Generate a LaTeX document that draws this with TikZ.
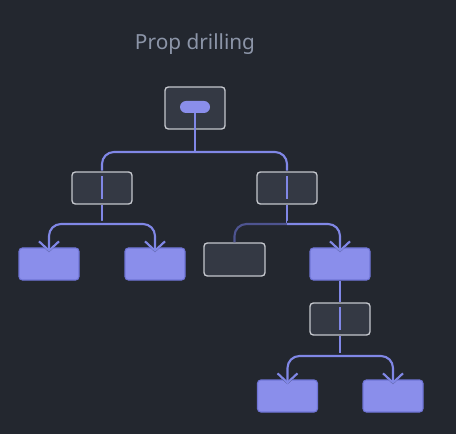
\documentclass[tikz,border=0pt]{standalone}
\usepackage{fontspec}
\setmainfont{Noto Sans}
\usetikzlibrary{arrows.meta}
\definecolor{bg}{HTML}{23272F}
\definecolor{wirec}{HTML}{8087E6}
\definecolor{dimw}{HTML}{4E5490}
\definecolor{purf}{HTML}{8A8EEB}
\definecolor{purd}{HTML}{6F74D6}
\definecolor{grayf}{HTML}{343944}
\definecolor{grayd}{HTML}{C4C7CD}
\definecolor{titlec}{HTML}{8C95A8}
\tikzset{
  graybox/.style={draw=grayd, fill=grayf, line width=1pt, rounded corners=2.5pt, minimum width=45pt, minimum height=24pt, inner sep=0pt},
  purbox/.style={draw=purd, fill=purf, line width=0.8pt, rounded corners=2.5pt, minimum width=45pt, minimum height=24pt, inner sep=0pt},
  pill/.style={fill=purf, rounded corners=4.5pt, minimum width=22.5pt, minimum height=9pt, inner sep=0pt},
  wire/.style={draw=wirec, line width=1.6pt, rounded corners=9pt},
  inwire/.style={draw=wirec, line width=1.6pt},
  arr/.style={wire, -{Straight Barb[length=7pt,width=15pt]},
    preaction={draw=bg, line width=4.5pt, -{Straight Barb[length=7pt,width=15pt]}}},
}
\begin{document}
\begin{tikzpicture}[x=0.75pt,y=-0.75pt]
\fill[bg] (0,0) rectangle (456,434);
\useasboundingbox (0,0) rectangle (456,434);
\node[text=titlec, font=\fontsize{15.6pt}{18pt}\selectfont] (title) at (195,44) {Prop drilling};
% nodes
\node[graybox, minimum width=45pt, minimum height=31.5pt] (root) at (195,108) {};
\node[pill] (pl) at (195,107) {};
\node[graybox] (midL) at (102,188) {};
\node[graybox] (midR) at (287,188) {};
\node[purbox] (leafLL) at (49,264) {};
\node[purbox] (leafLR) at (155,264) {};
\node[graybox, minimum width=45.75pt, minimum height=24.75pt] (gray) at (234.5,259.5) {};
\node[purbox] (purp) at (340,264) {};
\node[graybox] (midB) at (340,319) {};
\node[purbox] (leafBL) at (287.5,396) {};
\node[purbox] (leafBR) at (393,396) {};
% junction coordinates
\coordinate (j0) at (195,152);
\coordinate (j1) at (102,224);
\coordinate (j2) at (287,224);
\coordinate (j3) at (340,356);
% root to middle
\draw[inwire] (pl.south) -- (j0);
\draw[wire] (j0) -| ([yshift=0.6pt]midL.north);
\draw[wire] (j0) -| ([yshift=0.6pt]midR.north);
\draw[inwire] ([yshift=-3.5pt]midL.north) -- ([yshift=4pt]midL.south);
\draw[inwire] ([yshift=-3.5pt]midR.north) -- ([yshift=4pt]midR.south);
% left subtree
\draw[inwire] ([yshift=-0.6pt]midL.south) -- (j1);
\draw[arr] (j1) -| ([yshift=-3.5pt]leafLL.north);
\draw[arr] (j1) -| ([yshift=-3.5pt]leafLR.north);
% right subtree
\draw[inwire] ([yshift=-0.6pt]midR.south) -- (j2);
\draw[wire, draw=dimw] (j2) -| (gray.north);
\draw[arr] (j2) -| ([yshift=-3.5pt]purp.north);
% bottom subtree
\draw[inwire] (purp.south) -- ([yshift=0.6pt]midB.north);
\draw[inwire] ([yshift=-3.5pt]midB.north) -- ([yshift=4pt]midB.south);
\draw[inwire] ([yshift=-0.6pt]midB.south) -- (j3);
\draw[arr] (j3) -| ([yshift=-3.5pt]leafBL.north);
\draw[arr] (j3) -| ([yshift=-3.5pt]leafBR.north);
\end{tikzpicture}
\end{document}
